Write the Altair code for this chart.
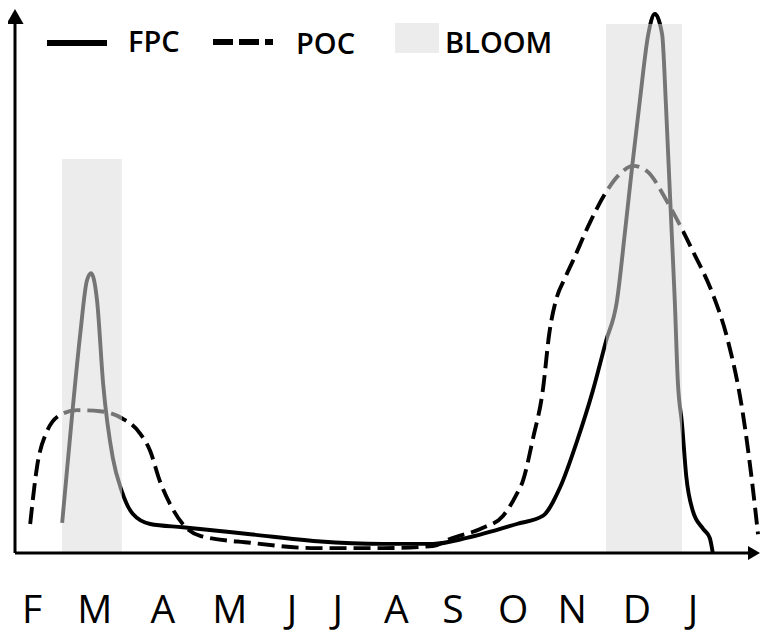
import altair as alt
import pandas as pd

# ---------------- data ----------------
months = ["F", "M", "A", "M", "J", "J", "A", "S", "O", "N", "D", "J"]
month_pos = [0.0, 1.04, 2.17, 3.28, 4.31, 5.07, 6.04, 6.98, 7.98, 8.96, 10.03, 10.96]

fpc_x = [0.50, 0.66, 0.80, 0.91, 0.98, 1.08, 1.18, 1.34, 1.49, 1.67, 1.96, 2.50,
         3.62, 4.73, 5.82, 6.65, 7.21, 8.04, 8.47, 8.76, 9.04, 9.30, 9.52, 9.70,
         9.83, 9.95, 10.08, 10.22, 10.33, 10.45, 10.51, 10.56, 10.61, 10.66, 10.71,
         10.78, 10.85, 10.96, 11.13, 11.24, 11.29]
fpc_y = [5.6, 25.1, 40.8, 50.7, 52.1, 46.9, 31.5, 17.7, 11.5, 7.3, 5.4, 4.8,
         3.5, 2.2, 1.7, 1.7, 2.8, 5.4, 6.9, 12.3, 20.9, 30.2, 39.5, 46.9,
         59.4, 71.7, 84.2, 96.6, 100.4, 96.6, 84.2, 71.7, 59.4, 46.9, 32.0,
         24.0, 14.3, 7.8, 4.5, 2.8, 0.0]

poc_x = [-0.03, 0.08, 0.25, 0.50, 0.75, 1.13, 1.49, 1.79, 1.96, 2.12, 2.29, 2.50,
         2.79, 3.62, 4.73, 5.82, 6.65, 6.93, 7.48, 7.81, 8.04, 8.14, 8.31, 8.47,
         8.58, 8.70, 8.83, 8.97, 9.25, 9.52, 9.75, 9.97, 10.20, 10.53, 10.78,
         10.96, 11.29, 11.53, 11.79, 11.94, 12.04]
poc_y = [5.4, 15.8, 22.7, 25.9, 26.6, 26.4, 25.1, 22.3, 19.0, 13.4, 9.1, 5.4,
         3.2, 1.9, 0.9, 0.9, 1.3, 2.6, 4.7, 6.9, 11.0, 13.4, 21.4, 30.2,
         41.0, 47.5, 51.0, 54.4, 61.5, 67.2, 70.6, 72.1, 71.1, 65.5, 60.3,
         56.2, 48.2, 40.0, 25.9, 13.4, 3.5]

bloom_start = [0.50, 9.52]
bloom_end = [1.49, 10.78]
bloom_top = [73.4, 98.5]

# ---------------- layout ----------------
W, H = 752, 545
X_DOMAIN = [-0.398, 12.073]
Y_DOMAIN = [0, 101.5]
BLACK = "#000000"
GREY = "#757575"
BLOOM_FILL = "#ececec"
FONT = "Open Sans"
LW = 3.9

xs = alt.Scale(domain=X_DOMAIN, nice=False, zero=False)
ys = alt.Scale(domain=Y_DOMAIN, nice=False, zero=False)
one = alt.Data(values=[{"a": 1}])


def bloom_gradient(xvals):
    """Horizontal gradient along the line: grey inside bloom periods, black outside."""
    lo, hi = min(xvals), max(xvals)
    stops = [{"offset": 0, "color": BLACK}]
    for s, e in zip(bloom_start, bloom_end):
        a = max(0.0, min(1.0, (s - lo) / (hi - lo)))
        b = max(0.0, min(1.0, (e - lo) / (hi - lo)))
        stops += [{"offset": a, "color": BLACK}, {"offset": a, "color": GREY},
                  {"offset": b, "color": GREY}, {"offset": b, "color": BLACK}]
    stops.append({"offset": 1, "color": BLACK})
    if stops[1]["offset"] == 0:
        stops = stops[2:]
        stops.insert(0, {"offset": 0, "color": GREY})
    return alt.LinearGradient(gradient="linear", stops=stops, x1=0, x2=1, y1=0, y2=0)


def above_top_gradient(yvals, top):
    """Vertical gradient: black above the bloom box top, transparent below."""
    lo, hi = 0.0, max(yvals)
    a = (hi - top) / (hi - lo)
    return alt.LinearGradient(gradient="linear", x1=0, x2=0, y1=0, y2=1, stops=[
        {"offset": 0, "color": BLACK}, {"offset": a, "color": BLACK},
        {"offset": a, "color": "rgba(0,0,0,0)"}, {"offset": 1, "color": "rgba(0,0,0,0)"}])


blooms = alt.Chart(pd.DataFrame({"start": bloom_start, "end": bloom_end, "top": bloom_top})).mark_rect(
    color=BLOOM_FILL
).encode(
    x=alt.X("start:Q", scale=xs, axis=None),
    x2="end:Q",
    y=alt.Y("top:Q", scale=ys, axis=None),
    y2=alt.datum(0),
)

fpc_df = pd.DataFrame({"x": fpc_x, "y": fpc_y})
enc = dict(x=alt.X("x:Q", scale=xs, axis=None), y=alt.Y("y:Q", scale=ys, axis=None))

fpc_line = alt.Chart(fpc_df).mark_line(
    strokeWidth=LW, interpolate="monotone", color=bloom_gradient(fpc_x)).encode(**enc)
fpc_peak = alt.Chart(fpc_df).mark_line(
    strokeWidth=LW, interpolate="monotone", color=above_top_gradient(fpc_y, bloom_top[1])).encode(**enc)

poc_line = alt.Chart(pd.DataFrame({"x": poc_x, "y": poc_y})).mark_line(
    strokeWidth=LW, interpolate="monotone", strokeDash=[17, 7], color=bloom_gradient(poc_x)
).encode(**enc)

x_axis = alt.Chart(one).mark_rule(color=BLACK, strokeWidth=3).encode(
    x=alt.value(7), x2=alt.value(744), y=alt.value(545))
y_axis = alt.Chart(one).mark_rule(color=BLACK, strokeWidth=3).encode(
    x=alt.value(7), y=alt.value(10), y2=alt.value(545))
up_arrow = alt.Chart(one).mark_point(shape="M0,0L-0.57,1L0.57,1Z", size=900, filled=True,
                                     color=BLACK, opacity=1).encode(x=alt.value(7), y=alt.value(1))
right_arrow = alt.Chart(one).mark_point(shape="M0,0L-1,-0.58L-1,0.58Z", size=576, filled=True,
                                        color=BLACK, opacity=1).encode(x=alt.value(752), y=alt.value(545))

labels = alt.Chart(pd.DataFrame({"pos": month_pos, "m": months})).mark_text(
    font=FONT, fontSize=39, baseline="alphabetic", align="center", color=BLACK
).encode(x=alt.X("pos:Q", scale=xs, axis=None), y=alt.value(615), text="m:N")

# legend (drawn manually)
leg_fpc = alt.Chart(one).mark_rule(color=BLACK, strokeWidth=6).encode(
    x=alt.value(39), x2=alt.value(99), y=alt.value(35))
leg_poc = alt.Chart(one).mark_rule(color=BLACK, strokeWidth=6, strokeDash=[20, 6]).encode(
    x=alt.value(205), x2=alt.value(265), y=alt.value(34))
leg_bloom = alt.Chart(one).mark_rect(color=BLOOM_FILL).encode(
    x=alt.value(387), x2=alt.value(431), y=alt.value(15), y2=alt.value(45))


def leg_text(t, x, y):
    return alt.Chart(one).mark_text(font=FONT, fontSize=29, fontWeight=600, align="left",
                                    baseline="alphabetic", color=BLACK, text=t).encode(
        x=alt.value(x), y=alt.value(y))


chart = alt.layer(
    blooms, poc_line, fpc_line, fpc_peak, x_axis, y_axis, up_arrow, right_arrow, labels,
    leg_fpc, leg_poc, leg_bloom,
    leg_text("FPC", 120, 44), leg_text("POC", 288, 46), leg_text("BLOOM", 437, 45),
).properties(
    width=W, height=H,
    padding={"left": 0, "top": 0, "right": 0, "bottom": 81},
    autosize=alt.AutoSizeParams(type="none"),
).configure_view(stroke=None)

chart.save("out.html", embed_options={"renderer": "svg", "actions": False})
